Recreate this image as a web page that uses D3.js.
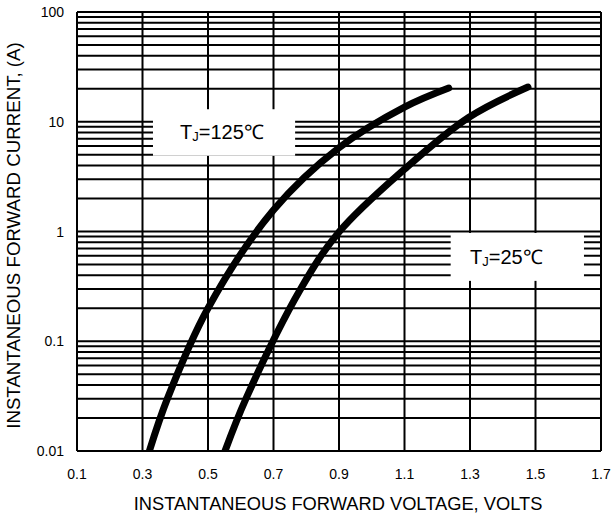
<!DOCTYPE html>
<html>
<head>
<meta charset="utf-8">
<script src="https://cdn.jsdelivr.net/npm/d3@7/dist/d3.min.js"></script>
<style>
  html, body { margin: 0; padding: 0; background: #fff; }
  svg { display: block; }
  text { font-family: Arial, "Liberation Sans", sans-serif; fill: #000; }
</style>
</head>
<body>
<svg id="chart" width="612" height="518"></svg>
<script>
// ---- data ----
const voltTicks = [0.1, 0.3, 0.5, 0.7, 0.9, 1.1, 1.3, 1.5, 1.7];
const currentTicks = [0.01, 0.1, 1, 10, 100];
const currentTickLabels = ["0.01", "0.1", "1", "10", "100"];

const curve125V = [0.321, 0.376, 0.5, 0.7, 0.9, 1.1, 1.235];
const curve125I = [0.01, 0.03, 0.2, 1.57, 5.8, 13.6, 20.3];
const curve25V  = [0.552, 0.616, 0.781, 0.9, 1.1, 1.297, 1.477];
const curve25I  = [0.01, 0.03, 0.293, 0.99, 3.7, 11, 20.7];

const label125 = { main: "T", sub: "J", rest: "=125℃", v0: 0.332, v1: 0.766, i0: 13, i1: 4.9 };
const label25  = { main: "T", sub: "J", rest: "=25℃",  v0: 1.241, v1: 1.648, i0: 0.97, i1: 0.355 };

const xTitle = "INSTANTANEOUS FORWARD VOLTAGE, VOLTS";
const yTitle = "INSTANTANEOUS FORWARD CURRENT, (A)";

// ---- layout ----
const svg = d3.select("#chart");
const L = 77, R = 601, T = 12, B = 451;

const x = d3.scaleLinear().domain([0.1, 1.7]).range([L, R]);
const y = d3.scaleLog().domain([0.01, 100]).range([B, T]);

// minor horizontal grid values (1..9 x 10^k)
const hGrid = [];
for (let k = -2; k < 2; k++) {
  for (let m = 1; m <= 9; m++) hGrid.push(m * Math.pow(10, k));
}
hGrid.push(100);

const g = svg.append("g");

// horizontal grid
g.selectAll("line.h").data(hGrid).join("line")
  .attr("class", "h")
  .attr("x1", L).attr("x2", R)
  .attr("y1", d => y(d)).attr("y2", d => y(d))
  .attr("stroke", "#000").attr("stroke-width", 2);

// vertical grid
g.selectAll("line.v").data(voltTicks).join("line")
  .attr("class", "v")
  .attr("x1", d => x(d)).attr("x2", d => x(d))
  .attr("y1", T).attr("y2", B)
  .attr("stroke", "#000").attr("stroke-width", 2);

// label boxes (white, over grid)
function drawLabel(lb, textX) {
  g.append("rect")
    .attr("x", x(lb.v0)).attr("y", y(lb.i0))
    .attr("width", x(lb.v1) - x(lb.v0))
    .attr("height", y(lb.i1) - y(lb.i0))
    .attr("fill", "#fff");
  const cy = (y(lb.i0) + y(lb.i1)) / 2;
  const t = g.append("text")
    .attr("x", textX)
    .attr("y", cy + 7)
    .attr("font-size", 20);
  t.append("tspan").text(lb.main);
  t.append("tspan").attr("font-size", 13).attr("dy", 2).text(lb.sub);
  t.append("tspan").attr("dy", -2).text(lb.rest);
}
drawLabel(label125, 180);
drawLabel(label25, 470);

// clip
svg.append("clipPath").attr("id", "plotclip")
  .append("rect").attr("x", L).attr("y", T - 10).attr("width", R - L).attr("height", B - T + 10);

const line = d3.line()
  .x(d => x(d[0])).y(d => y(d[1]))
  .curve(d3.curveCatmullRom.alpha(0.5));

const curves = [
  d3.zip(curve125V, curve125I),
  d3.zip(curve25V, curve25I)
];
svg.append("g").attr("clip-path", "url(#plotclip)")
  .selectAll("path").data(curves).join("path")
  .attr("d", line)
  .attr("fill", "none")
  .attr("stroke", "#000")
  .attr("stroke-width", 7)
  .attr("stroke-linecap", "round")
  .attr("stroke-linejoin", "round");

// y tick labels
svg.selectAll("text.yt").data(currentTicks).join("text")
  .attr("class", "yt")
  .attr("x", 64)
  .attr("y", d => y(d) + 5)
  .attr("text-anchor", "end")
  .attr("font-size", 14)
  .text((d, i) => currentTickLabels[i]);

// x tick labels
svg.selectAll("text.xt").data(voltTicks).join("text")
  .attr("class", "xt")
  .attr("x", d => x(d))
  .attr("y", 479)
  .attr("text-anchor", "middle")
  .attr("font-size", 14)
  .text(d => d3.format(".1f")(d));

// axis titles
svg.append("text")
  .attr("x", (L + R) / 2 - 1)
  .attr("y", 510)
  .attr("text-anchor", "middle")
  .attr("font-size", 18.3)
  .text(xTitle);

svg.append("text")
  .attr("transform", `translate(20, ${(T + B) / 2 + 4}) rotate(-90)`)
  .attr("text-anchor", "middle")
  .attr("font-size", 18.7)
  .text(yTitle);
</script>
</body>
</html>
